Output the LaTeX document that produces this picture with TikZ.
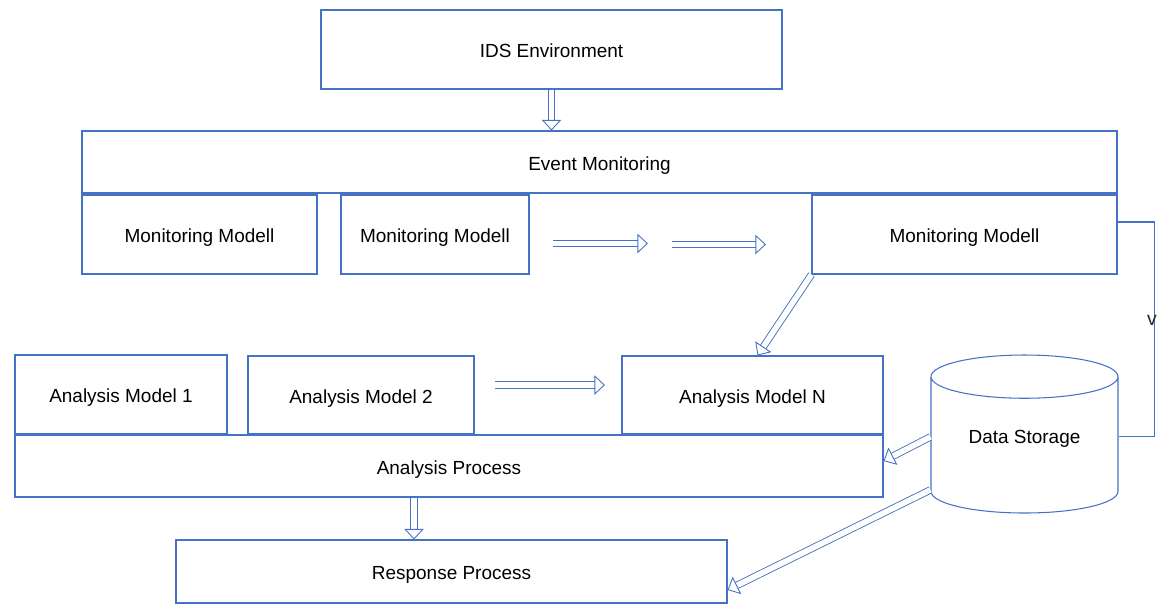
\documentclass[tikz,border=0pt]{standalone}
\usepackage{fontspec}
\setmainfont{Liberation Sans}
\usepackage{xcolor}
\usetikzlibrary{shapes.geometric,arrows.meta}
\definecolor{lineblue}{RGB}{68,114,196}

\begin{document}
\begin{tikzpicture}[
  box/.style={rectangle, draw=lineblue, line width=0.6pt, fill=white, text height=12.5pt, text depth=3pt, font=\fontsize{10.8}{13}\selectfont},
  hollow/.style={draw=lineblue, line width=0.5pt, double=white, double distance=3.2pt, -{Triangle[open, length=6pt, width=11pt]}},
  thin/.style={draw=lineblue, line width=0.6pt}
]
  \useasboundingbox (0,0) rectangle (23.24,-12.08);

  \node[box, minimum width=9.22cm, minimum height=1.58cm] (env) at (11.03,-0.99) {IDS Environment};
  \node[box, minimum width=20.7cm, minimum height=1.24cm] (evmon) at (11.99,-3.24) {Event Monitoring};
  \node[box, minimum width=4.70cm, minimum height=1.58cm] (mon1) at (3.99,-4.69) {Monitoring Modell};
  \node[box, minimum width=3.76cm, minimum height=1.58cm] (mon2) at (8.70,-4.69) {Monitoring Modell};
  \node[box, minimum width=6.10cm, minimum height=1.58cm] (mon3) at (19.29,-4.69) {Monitoring Modell};

  \node[box, minimum width=17.36cm, minimum height=1.24cm] (aproc) at (8.98,-9.32) {Analysis Process};
  \node[box, minimum width=4.24cm, minimum height=1.58cm] (an1) at (2.42,-7.89) {Analysis Model 1};
  \node[box, minimum width=4.52cm, minimum height=1.56cm] (an2) at (7.22,-7.90) {Analysis Model 2};
  \node[box, minimum width=5.22cm, minimum height=1.56cm] (anN) at (15.05,-7.90) {Analysis Model N};
  \node[box, minimum width=11.02cm, minimum height=1.26cm] (resp) at (9.03,-11.43) {Response Process};

  \node[box, cylinder, shape border rotate=90, aspect=0.35, text depth=18.5pt, minimum width=3.74cm, minimum height=3.16cm, anchor=shape center] (store) at (20.49,-8.68) {Data Storage};

  \coordinate (m1) at (11.06,-4.87);
  \coordinate (m2) at (12.96,-4.87);
  \coordinate (m3) at (13.44,-4.89);
  \coordinate (m4) at (15.32,-4.89);
  \coordinate (a1) at (9.90,-7.70);
  \coordinate (a2) at (12.10,-7.70);

  \draw[hollow] (env.south) -- (env.south |- evmon.north);
  \draw[hollow] (m1) -- (m2);
  \draw[hollow] (m3) -- (m4);
  \draw[hollow] (a1) -- (a2);
  \draw[hollow] (mon3.south west) -- ([xshift=0.1cm]anN.north);
  \draw[hollow] ([yshift=0.24cm]store.west) -- ([yshift=0.1cm]aproc.east);
  \draw[hollow] ([xshift=-0.7cm]aproc.south) -- ([xshift=-0.7cm]aproc.south |- resp.north);
  \draw[hollow] ([yshift=-0.82cm]store.west) -- ([yshift=-0.37cm]resp.east);

  \draw[thin] ([yshift=0.25cm]mon3.east) -- ++(0.74cm,0) |- node[pos=0.23, xshift=-1.5pt, text=black!85, font=\fontsize{11}{12}\selectfont, inner sep=0pt] {v} ([yshift=0.24cm]store.east);
\end{tikzpicture}
\end{document}
